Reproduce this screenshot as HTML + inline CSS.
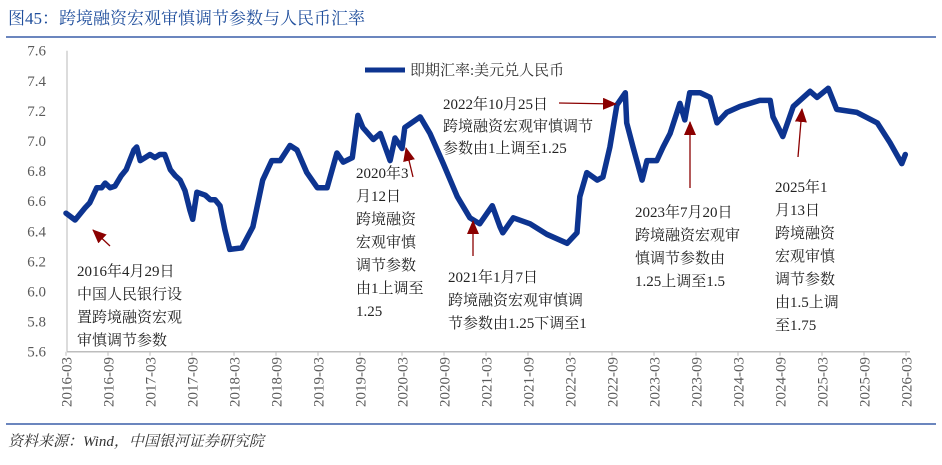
<!DOCTYPE html>
<html><head><meta charset="utf-8"><style>
body{margin:0;background:#fff;}
svg text{font-family:"Liberation Serif","Noto Serif CJK SC","Noto Sans CJK SC",serif;}
</style></head><body>
<svg id="chart" width="942" height="460" xmlns="http://www.w3.org/2000/svg">
<text x="8" y="24" font-size="17" fill="#1f4e9c">图45：跨境融资宏观审慎调节参数与人民币汇率</text>
<line x1="6" y1="37" x2="936" y2="37" stroke="#3a5fa8" stroke-width="1.5"/>
<line x1="6" y1="424" x2="936" y2="424" stroke="#3a5fa8" stroke-width="1.5"/>
<text x="8" y="446" font-size="15" font-style="italic" fill="#333">资料来源：Wind，中国银河证券研究院</text>
<g id="axes"></g>
<g id="series"></g>
<g>
<line x1="365" y1="70" x2="405" y2="70" stroke="#0d3490" stroke-width="5"/>
<text x="410" y="75" font-size="15" fill="#333">即期汇率:美元兑人民币</text>
</g>
<g id="annots" font-size="15" fill="#222"></g>
</svg>
<script>
const yTicks=[5.6,5.8,6.0,6.2,6.4,6.6,6.8,7.0,7.2,7.4,7.6];
const xTickLabels=["2016-03","2016-09","2017-03","2017-09","2018-03","2018-09","2019-03","2019-09","2020-03","2020-09","2021-03","2021-09","2022-03","2022-09","2023-03","2023-09","2024-03","2024-09","2025-03","2025-09","2026-03"];
const monthIdx=[0,1.3,2.7,3.4,4.4,5.1,5.6,6.3,7,7.9,8.6,9.1,9.7,10.1,10.6,11.3,12,12.7,13.4,14.1,14.9,15.6,16.3,17,17.7,18.1,18.7,19.9,20.6,21.3,22,22.7,23.4,25.1,26.7,28.1,29.4,30.6,32,33,34.4,35.9,37.3,38.7,39.6,40.9,41.7,42.4,43.9,44.9,46.3,47,48,48.4,50.6,52,53.9,55.9,57.7,59.1,60.9,62,62.4,63.9,66.3,68.7,71.6,73,73.4,74.4,75.9,76.7,77.7,78.7,79.9,80.1,81,82.3,83,84.4,85.3,86.3,87.7,88.4,89.1,90.6,92,93,94.4,96.3,99.1,100.6,101,102.4,103.9,106.3,107.3,108.9,110.1,113,115.9,117.7,119.4,119.9];
const rate=[6.52,6.475,6.555,6.59,6.69,6.69,6.72,6.69,6.70,6.77,6.81,6.87,6.94,6.96,6.87,6.89,6.91,6.89,6.91,6.91,6.81,6.77,6.74,6.67,6.54,6.48,6.66,6.64,6.61,6.61,6.57,6.41,6.28,6.29,6.43,6.74,6.87,6.87,6.97,6.94,6.79,6.69,6.69,6.92,6.86,6.89,7.17,7.09,7.01,7.05,6.87,7.02,6.95,7.09,7.16,7.05,6.85,6.63,6.49,6.45,6.57,6.43,6.39,6.49,6.45,6.38,6.32,6.39,6.63,6.79,6.74,6.76,6.96,7.24,7.32,7.12,6.96,6.74,6.87,6.87,6.96,7.05,7.25,7.14,7.32,7.32,7.29,7.12,7.19,7.23,7.27,7.27,7.16,7.03,7.23,7.33,7.29,7.35,7.21,7.19,7.12,6.99,6.85,6.91];
const NS="http://www.w3.org/2000/svg";
const X0=66,PXM=7,Y0=351.7,PXU=150.5;
const xs=m=>X0+m*PXM, ys=v=>Y0-(v-5.6)*PXU;
function mk(t,a,p){const e=document.createElementNS(NS,t);for(const k in a)e.setAttribute(k,a[k]);p.appendChild(e);return e;}
const ax=document.getElementById('axes');
const la=mk('line',{x1:67,y1:ys(7.6),x2:67,y2:ys(5.6),stroke:'#d0d0d0','stroke-width':1.5},ax);


const lb=mk('line',{x1:67,y1:ys(5.6),x2:910,y2:ys(5.6),stroke:'#bdbdbd','stroke-width':1.5},ax);


yTicks.forEach(v=>{const t=mk('text',{x:46,y:ys(v)+5,'text-anchor':'end','font-size':15,fill:'#595959'},ax);t.textContent=v.toFixed(1);

});
xTickLabels.forEach((s,i)=>{const x=xs(i*6);
mk('line',{x1:x,y1:Y0,x2:x,y2:Y0+4,stroke:'#bdbdbd'},ax);
const t=mk('text',{x:0,y:0,'text-anchor':'end','font-size':15,fill:'#595959',transform:`translate(${x+5.5},357) rotate(-90)`},ax);t.textContent=s;

});
const d=monthIdx.map((m,i)=>(i?'L':'M')+xs(m).toFixed(1)+','+ys(rate[i]).toFixed(1)).join(' ');
const p=mk('path',{d:d,fill:'none',stroke:'#0d3490','stroke-width':5.5,'stroke-linejoin':'round','stroke-linecap':'round'},document.getElementById('series'));


const an=document.getElementById('annots');
const defs=mk('defs',{},document.getElementById('chart'));
const mkr=mk('marker',{id:'ah',markerWidth:14,markerHeight:12,refX:13,refY:6,orient:'auto',markerUnits:'userSpaceOnUse'},defs);
mk('path',{d:'M0,0 L14,6 L0,12 Z',fill:'#8b0000'},mkr);
function arrow(x1,y1,x2,y2,name){const l=mk('line',{x1,y1,x2,y2,stroke:'#8b0000','stroke-width':1.3,'marker-end':'url(#ah)'},an);

}
function note(x,y,lh,lines,name){const g=mk('g',{},an);


lines.forEach((s,i)=>{const t=mk('text',{x:x,y:y+i*lh},g);t.textContent=s;});}
arrow(110,246,93,230,'arrow-2016');
note(77,276,23,['2016年4月29日','中国人民银行设','置跨境融资宏观','审慎调节参数'],'note-2016');
arrow(413,177,406,148,'arrow-2020');
note(356,178,23,['2020年3','月12日','跨境融资','宏观审慎','调节参数','由1上调至','1.25'],'note-2020');
arrow(559,103,616,104,'arrow-2022');
note(443,109,22,['2022年10月25日','跨境融资宏观审慎调节','参数由1上调至1.25'],'note-2022');
arrow(473,256,473,221,'arrow-2021');
note(448,282,23,['2021年1月7日','跨境融资宏观审慎调','节参数由1.25下调至1'],'note-2021');
arrow(690,188,690,122,'arrow-2023');
note(635,217,23,['2023年7月20日','跨境融资宏观审','慎调节参数由','1.25上调至1.5'],'note-2023');
arrow(798,157,802,109,'arrow-2025');
note(775,192,23,['2025年1','月13日','跨境融资','宏观审慎','调节参数','由1.5上调','至1.75'],'note-2025');
</script>
</body></html>
